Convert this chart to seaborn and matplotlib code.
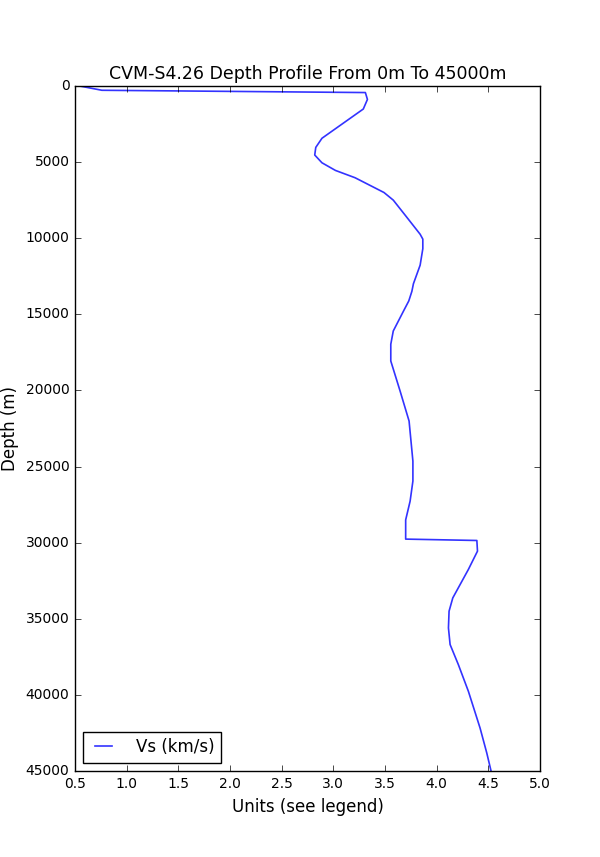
import numpy as np
import pandas as pd
import matplotlib
matplotlib.use('Agg')
import matplotlib.pyplot as plt
import seaborn as sns

# velocity profile (Vs in km/s vs depth in m)
vs = [0.53, 0.76, 3.31, 3.33, 3.29, 2.89, 2.83, 2.82, 2.89, 3.02, 3.21, 3.49, 3.58,
      3.70, 3.84, 3.866, 3.866, 3.84, 3.775, 3.76, 3.73, 3.68, 3.58, 3.556, 3.556,
      3.646, 3.733, 3.77, 3.77, 3.743, 3.70, 3.70, 4.389, 4.395, 4.307, 4.156, 4.12,
      4.114, 4.13, 4.21, 4.307, 4.42, 4.485, 4.527]
depth = [0, 300, 450, 900, 1530, 3450, 4050, 4550, 5060, 5560, 6040, 7010, 7510,
         8540, 9750, 10070, 10700, 11780, 13000, 13500, 14130, 14780, 16100, 16970, 18070,
         20040, 22010, 24640, 25950, 27270, 28500, 29760, 29850, 30550, 31750, 33620, 34490,
         35590, 36680, 38000, 39750, 42160, 43800, 45000]

df = pd.DataFrame({'Vs (km/s)': vs, 'depth': depth})

plt.style.use('classic')
plt.rcParams['figure.facecolor'] = 'white'
plt.rcParams['savefig.facecolor'] = 'white'
plt.rcParams['xtick.labelsize'] = 10
plt.rcParams['ytick.labelsize'] = 10

fig = plt.figure(figsize=(6, 8.57), dpi=100)
ax = fig.add_subplot(111)
sns.lineplot(data=df, x='Vs (km/s)', y='depth', orient='y', sort=False, estimator=None,
             color='#3333ff', ax=ax, label='Vs (km/s)', linewidth=1.2)
ax.set_xlim(0.5, 5.0)
ax.set_ylim(45000, 0)
ax.set_title('CVM-S4.26 Depth Profile From 0m To 45000m', fontsize=12.5)
ax.set_xlabel('Units (see legend)', fontsize=12)
ax.set_ylabel('Depth (m)', fontsize=12)
ax.legend(loc='lower left', fontsize=12, handlelength=1.6, handletextpad=1.15)

plt.savefig('out.png', dpi=100)
